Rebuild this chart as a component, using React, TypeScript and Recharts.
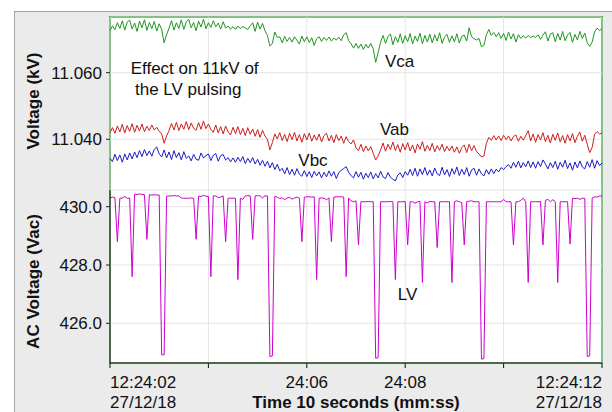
import React from "react";
import { LineChart, Line, XAxis, YAxis, CartesianGrid } from "recharts";

// 10 s of logger samples, one every 50 ms (12:24:02 -> 12:24:12)
const SAMPLE_STEP_S = 0.05;

// 11kV phase-phase voltages (kV)
const VCA_KV = [
  11.0726, 11.0741, 11.0729, 11.075, 11.0733, 11.0756, 11.0728, 11.0752, 11.0758, 11.0731,
  11.0749, 11.0724, 11.0755, 11.0735, 11.0759, 11.0727, 11.0751, 11.0732, 11.0754, 11.0725,
  11.0747, 11.073, 11.069, 11.0714, 11.0734, 11.0756, 11.0728, 11.075, 11.0733, 11.0759,
  11.073, 11.0753, 11.076, 11.0735, 11.0751, 11.0726, 11.0755, 11.0737, 11.0761, 11.0732,
  11.075, 11.0736, 11.0756, 11.0738, 11.0749, 11.0731, 11.0753, 11.0734, 11.074, 11.0731,
  11.0738, 11.073, 11.074, 11.0732, 11.0739, 11.0734, 11.073, 11.0741, 11.075, 11.0724,
  11.0752, 11.0731, 11.0748, 11.0726, 11.0712, 11.068, 11.0688, 11.0722, 11.0706, 11.0708,
  11.069, 11.0709, 11.0694, 11.0706, 11.0692, 11.0708, 11.0697, 11.0686, 11.071, 11.0693,
  11.0708, 11.0691, 11.0705, 11.0682, 11.0702, 11.0708, 11.0694, 11.0706, 11.0697, 11.0707,
  11.0695, 11.0704, 11.0698, 11.0707, 11.0696, 11.0714, 11.072, 11.0696, 11.0687, 11.0674,
  11.0688, 11.0673, 11.0686, 11.067, 11.0685, 11.0674, 11.0688, 11.0672, 11.0631, 11.066,
  11.0692, 11.0712, 11.0688, 11.0709, 11.0716, 11.0684, 11.0708, 11.0691, 11.0717, 11.0688,
  11.0711, 11.0693, 11.0718, 11.0686, 11.071, 11.0694, 11.0719, 11.0687, 11.0712, 11.0692,
  11.0716, 11.069, 11.0714, 11.0695, 11.072, 11.0688, 11.0708, 11.0715, 11.0691, 11.0711,
  11.0693, 11.0717, 11.0689, 11.0709, 11.0713, 11.0695, 11.0735, 11.0708, 11.0702, 11.0698,
  11.0703, 11.0678, 11.0682, 11.0714, 11.073, 11.0712, 11.0721, 11.0708, 11.072, 11.0703,
  11.0718, 11.0697, 11.0722, 11.0701, 11.0717, 11.0692, 11.0714, 11.0703, 11.0711, 11.0704,
  11.0712, 11.0705, 11.071, 11.0706, 11.0714, 11.07, 11.0713, 11.0723, 11.0695, 11.0716,
  11.072, 11.0693, 11.0718, 11.0698, 11.0724, 11.0696, 11.0713, 11.0721, 11.0691, 11.0715,
  11.0698, 11.0724, 11.0703, 11.0719, 11.069, 11.0679, 11.0692, 11.0722, 11.0734, 11.0726,
  11.0733,
];

const VAB_KV = [
  11.042, 11.0435, 11.0418, 11.044, 11.0422, 11.0445, 11.0419, 11.0441, 11.0424, 11.0447,
  11.0421, 11.0442, 11.0425, 11.0446, 11.0423, 11.0439, 11.0426, 11.0443, 11.0428, 11.0436,
  11.0424, 11.0416, 11.0388, 11.041, 11.0426, 11.0448, 11.0428, 11.0451, 11.0426, 11.0446,
  11.043, 11.0453, 11.0429, 11.0449, 11.0433, 11.0427, 11.045, 11.043, 11.0455, 11.0432,
  11.0446, 11.043, 11.0421, 11.0443, 11.0419, 11.0438, 11.0416, 11.044, 11.0422, 11.0413,
  11.0436, 11.0417, 11.0438, 11.0414, 11.0433, 11.0411, 11.0435, 11.0415, 11.0431, 11.0409,
  11.0429, 11.0406, 11.0427, 11.041, 11.04, 11.0368, 11.039, 11.0416, 11.0401, 11.042,
  11.0396, 11.0415, 11.0393, 11.0418, 11.0399, 11.0421, 11.0395, 11.0414, 11.0391, 11.0417,
  11.0398, 11.0419, 11.0394, 11.0413, 11.0397, 11.0416, 11.0392, 11.0411, 11.0418, 11.0395,
  11.0412, 11.039, 11.0414, 11.0396, 11.041, 11.0388, 11.0408, 11.0393, 11.0386, 11.0398,
  11.0374, 11.0366, 11.0385, 11.0363, 11.038, 11.0365, 11.0378, 11.0358, 11.0338, 11.035,
  11.0368, 11.0389, 11.0364, 11.0385, 11.0369, 11.0392, 11.0366, 11.0384, 11.0361, 11.0387,
  11.0368, 11.039, 11.0365, 11.0383, 11.0359, 11.0386, 11.037, 11.0393, 11.0364, 11.0382,
  11.0366, 11.0388, 11.0362, 11.0381, 11.0367, 11.0385, 11.0363, 11.0379, 11.0365, 11.038,
  11.0361, 11.0377, 11.0358, 11.0375, 11.0383, 11.036, 11.0385, 11.0366, 11.0381, 11.0363,
  11.0356, 11.0347, 11.035, 11.0388, 11.0406, 11.0397, 11.0411, 11.0398, 11.041, 11.0396,
  11.0412, 11.0399, 11.041, 11.0395, 11.0408, 11.0413, 11.0394, 11.0409, 11.0397, 11.0411,
  11.0426, 11.0395, 11.0416, 11.0391, 11.0414, 11.0398, 11.042, 11.0393, 11.0412, 11.0389,
  11.0415, 11.0397, 11.0419, 11.0392, 11.0411, 11.0388, 11.0414, 11.0395, 11.0417, 11.039,
  11.0409, 11.0422, 11.0394, 11.0412, 11.0385, 11.036, 11.0376, 11.0415, 11.0423, 11.0416,
  11.0419,
];

const VBC_KV = [
  11.0343, 11.0333, 11.0355, 11.0336, 11.0353, 11.0331, 11.0356, 11.0338, 11.0359, 11.0341,
  11.0362, 11.0345, 11.0366, 11.0348, 11.0369, 11.0351, 11.0365, 11.0349, 11.037, 11.0377,
  11.0356, 11.0347, 11.0368, 11.0344, 11.0362, 11.0339, 11.0366, 11.0345, 11.036, 11.0338,
  11.0363, 11.0343, 11.035, 11.0335, 11.0355, 11.034, 11.0337, 11.0359, 11.0344, 11.0351,
  11.0356, 11.0336, 11.0352, 11.0357, 11.0334, 11.0351, 11.0354, 11.0338, 11.0345, 11.0332,
  11.0344, 11.0331, 11.0346, 11.0333, 11.0348, 11.0327, 11.0343, 11.033, 11.0345, 11.0326,
  11.034, 11.0322, 11.0337, 11.0319, 11.0334, 11.0314, 11.033, 11.0309, 11.0325, 11.0305,
  11.0313, 11.0296, 11.0315, 11.0294, 11.031, 11.0292, 11.0312, 11.0295, 11.0289, 11.0306,
  11.0288, 11.0303, 11.0285, 11.0304, 11.029, 11.0302, 11.0284, 11.0301, 11.0287, 11.0305,
  11.0289, 11.0303, 11.0282, 11.03, 11.0307, 11.0312, 11.0318, 11.0301, 11.0291, 11.0284,
  11.0303, 11.0286, 11.0301, 11.028, 11.0298, 11.0285, 11.0302, 11.0281, 11.0297, 11.0284,
  11.0304, 11.0287, 11.0282, 11.03, 11.0286, 11.028, 11.0275, 11.0293, 11.0299, 11.0285,
  11.0303, 11.0292, 11.031, 11.0291, 11.0313, 11.0289, 11.0311, 11.0294, 11.0315, 11.0292,
  11.0308, 11.029, 11.0314, 11.0296, 11.0291, 11.0316, 11.0293, 11.0309, 11.0288, 11.0312,
  11.0295, 11.0317, 11.0291, 11.031, 11.0294, 11.0315, 11.0289, 11.0308, 11.0313, 11.0292,
  11.0311, 11.0296, 11.029, 11.0309, 11.0295, 11.0311, 11.0297, 11.031, 11.0302, 11.0315,
  11.0309, 11.0318, 11.0324, 11.0313, 11.0331, 11.0316, 11.0334, 11.0314, 11.033, 11.0317,
  11.0335, 11.0315, 11.0332, 11.0313, 11.0333, 11.0318, 11.0338, 11.0326, 11.0311, 11.033,
  11.0315, 11.0334, 11.031, 11.0331, 11.0316, 11.0337, 11.0312, 11.0329, 11.0307, 11.0332,
  11.0314, 11.0335, 11.0317, 11.0311, 11.0333, 11.0316, 11.0339, 11.0313, 11.0336, 11.0321,
  11.0329,
];

// LV supply (Vac)
const LV_VAC = [
  430.3, 430.33, 430.31, 428.8, 430.29, 430.3, 430.35, 430.29, 430.3, 427.6,
  430.43, 430.42, 430.44, 430.42, 430.41, 428.88, 430.41, 430.4, 430.41, 430.4,
  430.4, 424.92, 424.92, 430.36, 430.37, 430.37, 430.38, 430.37, 430.37, 430.3,
  430.29, 430.29, 430.29, 430.3, 430.29, 428.88, 430.36, 430.35, 430.39, 430.36,
  430.35, 427.6, 430.37, 430.37, 430.31, 430.33, 430.37, 428.8, 430.29, 430.29,
  430.29, 430.29, 427.5, 430.29, 430.25, 430.37, 430.38, 430.37, 428.88, 430.37,
  430.38, 430.37, 430.3, 430.37, 430.37, 424.86, 424.88, 430.35, 430.33, 430.28,
  430.3, 430.24, 430.3, 430.32, 430.26, 430.3, 430.33, 430.29, 428.8, 430.33,
  430.34, 430.34, 430.33, 430.34, 427.5, 430.29, 430.3, 430.29, 430.24, 430.3,
  428.8, 430.33, 430.34, 430.34, 430.34, 430.33, 427.6, 430.3, 430.2, 430.17,
  430.2, 428.69, 430.17, 430.17, 430.17, 430.18, 430.17, 430.17, 424.8, 424.82,
  430.17, 430.17, 430.17, 430.17, 430.18, 430.17, 427.5, 430.17, 430.17, 430.17,
  430.18, 428.69, 430.17, 430.17, 430.12, 430.17, 430.18, 427.4, 430.17, 430.13,
  430.18, 430.17, 430.17, 428.6, 430.17, 430.17, 430.17, 430.17, 430.17, 427.4,
  430.17, 430.2, 430.17, 430.14, 428.69, 430.17, 430.19, 430.2, 430.17, 430.17,
  430.17, 424.77, 424.79, 430.17, 430.17, 430.17, 430.17, 430.17, 430.17, 430.17,
  430.25, 430.17, 430.17, 430.17, 428.69, 430.17, 430.17, 430.22, 430.29, 430.17,
  427.4, 430.17, 430.17, 430.17, 430.17, 430.18, 428.69, 430.22, 430.25, 430.17,
  430.24, 430.17, 427.4, 430.17, 430.17, 430.17, 430.17, 428.72, 430.29, 430.28,
  430.29, 430.25, 430.29, 430.29, 424.86, 424.88, 430.3, 430.34, 430.33, 430.37,
  430.36,
];

const TICK_SECONDS = [0, 2, 4, 6, 8, 10];
const TICK_TIMES = ["12:24:02", "", "24:06", "24:08", "", "12:24:12"];
const TICK_DATES = ["27/12/18", "", "", "", "", "27/12/18"];
const KV_TICKS = [11.04, 11.06];
const VAC_TICKS = [426, 428, 430];

const rows = LV_VAC.map((lv, i) => ({
  t: Math.round(i * SAMPLE_STEP_S * 100) / 100,
  vca: VCA_KV[i],
  vab: VAB_KV[i],
  vbc: VBC_KV[i],
  lv,
}));

const FONT = '"Liberation Sans", Arial, Helvetica, sans-serif';
const W = 612;
const H = 412;
const PLOT_L = 110;
const PLOT_R = 602;
const PLOT_T = 17;
const SPLIT = 190;
const X_AXIS_H = 49;

const GREEN = "#2a9d2a";
const tickStyle = { fill: "#111", fontSize: 17, fontFamily: FONT };

function TimeTick(props: any) {
  const { x, y, payload } = props;
  const i = TICK_SECONDS.indexOf(payload.value);
  if (i < 0) return null;
  const anchor = i === 0 ? "start" : i === TICK_SECONDS.length - 1 ? "end" : "middle";
  return (
    <g fontFamily={FONT} fontSize={17} fill="#111">
      <text x={x} y={y + 19.8} textAnchor={anchor}>
        {TICK_TIMES[i]}
      </text>
      {TICK_DATES[i] && (
        <text x={x} y={y + 39.8} textAnchor={anchor}>
          {TICK_DATES[i]}
        </text>
      )}
    </g>
  );
}

export default function App() {
  return (
    <div style={{ position: "absolute", left: 0, top: 0, width: W, height: H, background: "#fff", overflow: "hidden" }}>
      <div
        style={{
          position: "absolute",
          left: 14,
          top: 11,
          width: W - 14,
          height: H - 11,
          background: "#ebebeb",
          borderLeft: "1px solid #a3a3a3",
          borderTop: "1px solid #a3a3a3",
          boxSizing: "border-box",
        }}
      />
      <div
        style={{
          position: "absolute",
          left: PLOT_L - 1,
          top: PLOT_T - 1,
          width: PLOT_R - PLOT_L + 2,
          height: 363 - PLOT_T + 2,
          background: "#fff",
          border: `2px solid ${GREEN}`,
          boxSizing: "border-box",
        }}
      />

      {/* 11kV panel */}
      <div style={{ position: "absolute", left: 0, top: 0 }}>
        <LineChart
          width={W}
          height={SPLIT}
          data={rows}
          margin={{ top: PLOT_T, right: W - PLOT_R, bottom: 0, left: 0 }}
        >
          <CartesianGrid stroke="#e4e4e4" />
          <XAxis dataKey="t" type="number" domain={[0, 10]} ticks={TICK_SECONDS} hide height={0} />
          <YAxis
            width={PLOT_L}
            type="number"
            domain={[11.02477, 11.07673]}
            allowDataOverflow
            ticks={KV_TICKS}
            tickFormatter={(v: number) => v.toFixed(3)}
            axisLine={false}
            tickLine={{ stroke: "#222" }}
            tickSize={4}
            tickMargin={4}
            tick={tickStyle}
          />
          <Line dataKey="vca" stroke="#1f961f" strokeWidth={1} dot={false} isAnimationActive={false} />
          <Line dataKey="vab" stroke="#cc1f1f" strokeWidth={1} dot={false} isAnimationActive={false} />
          <Line dataKey="vbc" stroke="#1c1cc4" strokeWidth={1} dot={false} isAnimationActive={false} />
        </LineChart>
      </div>

      {/* LV panel */}
      <div style={{ position: "absolute", left: 0, top: SPLIT }}>
        <LineChart
          width={W}
          height={H - SPLIT}
          data={rows}
          margin={{ top: 0, right: W - PLOT_R, bottom: 0, left: 0 }}
        >
          <CartesianGrid stroke="#e4e4e4" />
          <XAxis
            dataKey="t"
            type="number"
            domain={[0, 10]}
            ticks={TICK_SECONDS}
            height={X_AXIS_H}
            axisLine={{ stroke: "#111" }}
            tickLine={{ stroke: "#111" }}
            tickSize={5}
            tickMargin={0}
            tick={<TimeTick />}
            interval={0}
          />
          <YAxis
            width={PLOT_L}
            type="number"
            domain={[424.638, 430.573]}
            allowDataOverflow
            ticks={VAC_TICKS}
            tickFormatter={(v: number) => v.toFixed(1)}
            axisLine={{ stroke: "#111" }}
            tickLine={{ stroke: "#222" }}
            tickSize={4}
            tickMargin={4}
            tick={tickStyle}
          />
          <Line dataKey="lv" stroke="#cc00cc" strokeWidth={1} dot={false} isAnimationActive={false} />
        </LineChart>
      </div>

      <svg
        width={W}
        height={H}
        style={{ position: "absolute", left: 0, top: 0, pointerEvents: "none" }}
        fontFamily={FONT}
        fontSize={17}
        fill="#111"
      >
        <text x={130.7} y={74.3}>Effect on 11kV of</text>
        <text x={135} y={95}>the LV pulsing</text>
        <text x={385} y={66.7}>Vca</text>
        <text x={380} y={134.5}>Vab</text>
        <text x={298.3} y={165.5}>Vbc</text>
        <text x={397.7} y={300}>LV</text>
        <g fontWeight="bold">
          <text transform="translate(38.5,101) rotate(-90)" textAnchor="middle">
            Voltage (kV)
          </text>
          <text transform="translate(38.5,281.5) rotate(-90)" textAnchor="middle">
            AC Voltage (Vac)
          </text>
          <text x={356} y={407.8} textAnchor="middle">
            Time 10 seconds (mm:ss)
          </text>
        </g>
      </svg>
    </div>
  );
}
